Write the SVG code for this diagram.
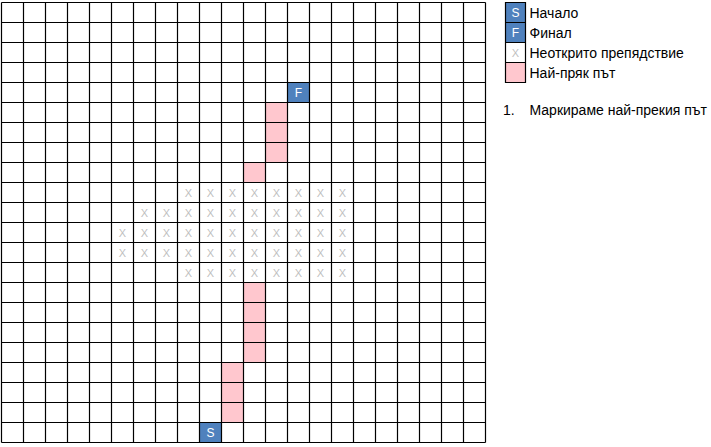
<svg xmlns="http://www.w3.org/2000/svg" width="711" height="447" viewBox="0 0 711 447">
<style>
.bg{fill:#ffffff}
.path{fill:#FFC7CE}
.end{fill:#4F81BD}
.grid{fill:none;stroke:#000000;stroke-width:1.2}
.ox{font-family:"Liberation Sans",Arial,sans-serif;font-size:11px;fill:#BFBFBF;text-anchor:middle}
.se{font-family:"Liberation Sans",Arial,sans-serif;font-size:12px;fill:#ffffff;text-anchor:middle}
.lbl{font-family:"Liberation Sans",Arial,sans-serif;font-size:14px;fill:#000000}
</style>
<rect class="bg" x="0" y="0" width="711" height="447"/>
<g id="path-cells">
<rect class="path" x="265.5" y="102.5" width="22" height="60"/>
<rect class="path" x="243.5" y="162.5" width="22" height="20"/>
<rect class="path" x="243.5" y="282.5" width="22" height="80"/>
<rect class="path" x="221.5" y="362.5" width="22" height="60"/>
</g>
<g id="finish">
<rect class="end" x="287.5" y="82.5" width="22" height="20"/>
<text class="se" x="298.5" y="97">F</text>
</g>
<g id="start">
<rect class="end" x="199.5" y="422.5" width="22" height="20"/>
<text class="se" x="210.5" y="437">S</text>
</g>
<g id="obstacles">
<text class="ox" x="188.5" y="197">X</text><text class="ox" x="210.5" y="197">X</text><text class="ox" x="232.5" y="197">X</text><text class="ox" x="254.5" y="197">X</text><text class="ox" x="276.5" y="197">X</text><text class="ox" x="298.5" y="197">X</text><text class="ox" x="320.5" y="197">X</text><text class="ox" x="342.5" y="197">X</text>
<text class="ox" x="144.5" y="217">X</text><text class="ox" x="166.5" y="217">X</text><text class="ox" x="188.5" y="217">X</text><text class="ox" x="210.5" y="217">X</text><text class="ox" x="232.5" y="217">X</text><text class="ox" x="254.5" y="217">X</text><text class="ox" x="276.5" y="217">X</text><text class="ox" x="298.5" y="217">X</text><text class="ox" x="320.5" y="217">X</text><text class="ox" x="342.5" y="217">X</text>
<text class="ox" x="122.5" y="237">X</text><text class="ox" x="144.5" y="237">X</text><text class="ox" x="166.5" y="237">X</text><text class="ox" x="188.5" y="237">X</text><text class="ox" x="210.5" y="237">X</text><text class="ox" x="232.5" y="237">X</text><text class="ox" x="254.5" y="237">X</text><text class="ox" x="276.5" y="237">X</text><text class="ox" x="298.5" y="237">X</text><text class="ox" x="320.5" y="237">X</text><text class="ox" x="342.5" y="237">X</text>
<text class="ox" x="122.5" y="257">X</text><text class="ox" x="144.5" y="257">X</text><text class="ox" x="166.5" y="257">X</text><text class="ox" x="188.5" y="257">X</text><text class="ox" x="210.5" y="257">X</text><text class="ox" x="232.5" y="257">X</text><text class="ox" x="254.5" y="257">X</text><text class="ox" x="276.5" y="257">X</text><text class="ox" x="298.5" y="257">X</text><text class="ox" x="320.5" y="257">X</text><text class="ox" x="342.5" y="257">X</text>
<text class="ox" x="188.5" y="277">X</text><text class="ox" x="210.5" y="277">X</text><text class="ox" x="232.5" y="277">X</text><text class="ox" x="254.5" y="277">X</text><text class="ox" x="276.5" y="277">X</text><text class="ox" x="298.5" y="277">X</text><text class="ox" x="320.5" y="277">X</text><text class="ox" x="342.5" y="277">X</text>
</g>
<g id="grid">
<path class="grid" d="M1.5 2.5V442.5M23.5 2.5V442.5M45.5 2.5V442.5M67.5 2.5V442.5M89.5 2.5V442.5M111.5 2.5V442.5M133.5 2.5V442.5M155.5 2.5V442.5M177.5 2.5V442.5M199.5 2.5V442.5M221.5 2.5V442.5M243.5 2.5V442.5M265.5 2.5V442.5M287.5 2.5V442.5M309.5 2.5V442.5M331.5 2.5V442.5M353.5 2.5V442.5M375.5 2.5V442.5M397.5 2.5V442.5M419.5 2.5V442.5M441.5 2.5V442.5M463.5 2.5V442.5M485.5 2.5V442.5M1.5 2.5H485.5M1.5 22.5H485.5M1.5 42.5H485.5M1.5 62.5H485.5M1.5 82.5H485.5M1.5 102.5H485.5M1.5 122.5H485.5M1.5 142.5H485.5M1.5 162.5H485.5M1.5 182.5H485.5M1.5 202.5H485.5M1.5 222.5H485.5M1.5 242.5H485.5M1.5 262.5H485.5M1.5 282.5H485.5M1.5 302.5H485.5M1.5 322.5H485.5M1.5 342.5H485.5M1.5 362.5H485.5M1.5 382.5H485.5M1.5 402.5H485.5M1.5 422.5H485.5M1.5 442.5H485.5"/>
</g>
<g id="legend">
<g id="legend-start">
<rect class="end" x="505.5" y="2.5" width="20" height="20"/>
<text class="se" x="515.5" y="17">S</text>
<text class="lbl" x="529.5" y="18">Начало</text>
</g>
<g id="legend-finish">
<rect class="end" x="505.5" y="22.5" width="20" height="20"/>
<text class="se" x="515.5" y="37">F</text>
<text class="lbl" x="529.5" y="38">Финал</text>
</g>
<g id="legend-obstacle">
<rect class="bg" x="505.5" y="42.5" width="20" height="20"/>
<text class="ox" x="515.5" y="57">X</text>
<text class="lbl" x="529.5" y="58">Неоткрито препядствие</text>
</g>
<g id="legend-path">
<rect class="path" x="505.5" y="62.5" width="20" height="20"/>
<text class="lbl" x="529.5" y="78">Най-пряк път</text>
</g>
<path class="grid" d="M505.5 2.5H525.5V82.5H505.5ZM505.5 22.5H525.5M505.5 42.5H525.5M505.5 62.5H525.5"/>
</g>
<g id="note">
<text class="lbl" x="503" y="115">1.</text>
<text class="lbl" x="529.5" y="115">Маркираме най-прекия път</text>
</g>
</svg>
